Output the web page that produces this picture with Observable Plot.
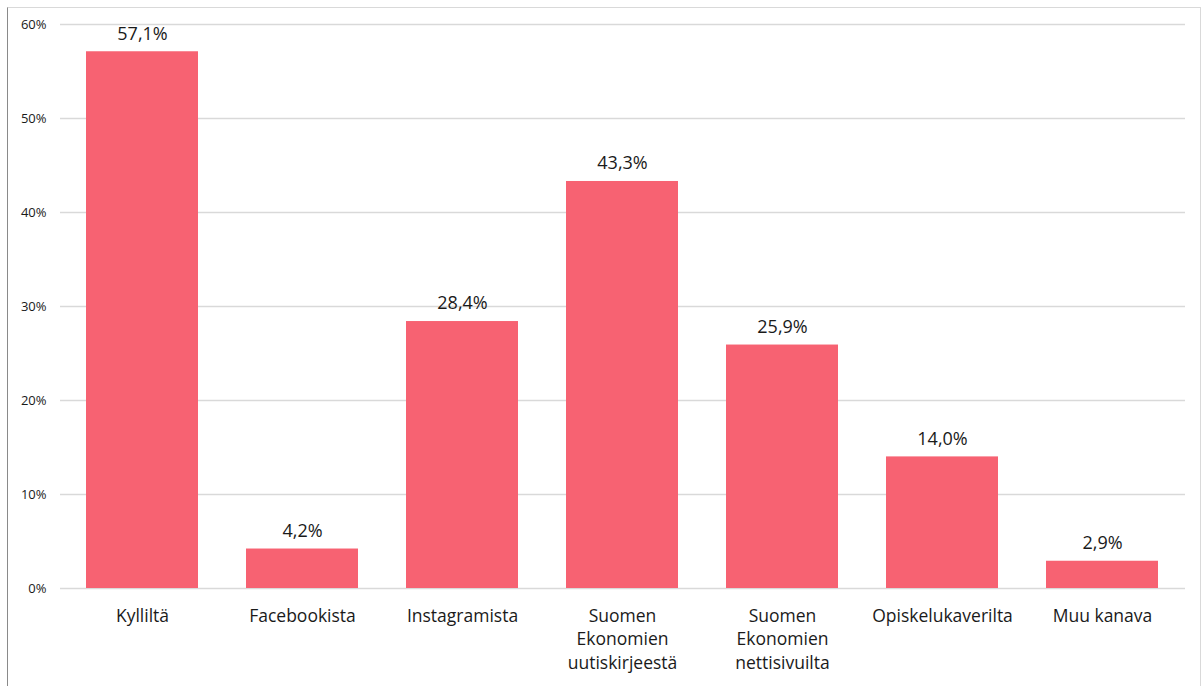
<!DOCTYPE html>
<html>
<head>
<meta charset="utf-8">
<script src="https://cdn.jsdelivr.net/npm/d3@7"></script>
<script src="https://cdn.jsdelivr.net/npm/@observablehq/plot@0.6"></script>
<style>
html,body{margin:0;padding:0;background:#fff;}
#wrap{position:relative;width:1204px;height:686px;overflow:hidden;}
#frame{position:absolute;left:7px;top:7px;width:1194px;height:700px;border-left:1px solid #8a8a8a;border-top:1px solid #d9d9d9;border-right:1px solid #d9d9d9;box-sizing:border-box;pointer-events:none;}
#chart{position:absolute;left:0;top:0;}
</style>
</head>
<body>
<div id="wrap"><div id="chart"></div><div id="frame"></div></div>
<script>
const categories = ["Kylliltä", "Facebookista", "Instagramista", "Suomen\nEkonomien\nuutiskirjeestä", "Suomen\nEkonomien\nnettisivuilta", "Opiskelukaverilta", "Muu kanava"];
const values = [0.571, 0.042, 0.284, 0.433, 0.259, 0.140, 0.029];
const yTicks = [0, 0.1, 0.2, 0.3, 0.4, 0.5, 0.6];

const data = categories.map((c, i) => ({category: c, value: values[i]}));
const fmtVal = v => (v * 100).toFixed(1).replace(".", ",") + "%";

const chart = Plot.plot({
  width: 1204,
  height: 686,
  marginLeft: 60,
  marginRight: 19,
  marginTop: 24,
  marginBottom: 98,
  style: {fontFamily: "'Open Sans', sans-serif", color: "#1a1a1a", background: "transparent"},
  x: {domain: categories, paddingInner: 0.297, paddingOuter: 0.1485, label: null},
  y: {domain: [0, 0.6], label: null},
  marks: [
    Plot.gridY(yTicks, {stroke: "#d9d9d9", strokeOpacity: 1, strokeWidth: 1.3}),
    Plot.axisY({ticks: yTicks, tickFormat: d => Math.round(d * 100) + "%", tickSize: 0, tickPadding: 14, fontSize: 13, label: null}),
    Plot.axisX({tickSize: 0, tickPadding: 16, fontSize: 17.5, label: null, lineHeight: 1.37}),
    Plot.barY(data, {x: "category", y: "value", fill: "#F76272"}),
    Plot.text(data, {x: "category", y: "value", text: d => fmtVal(d.value), dy: -18, fontSize: 18, fill: "#1a1a1a"})
  ]
});
document.getElementById("chart").appendChild(chart);
</script>
</body>
</html>
